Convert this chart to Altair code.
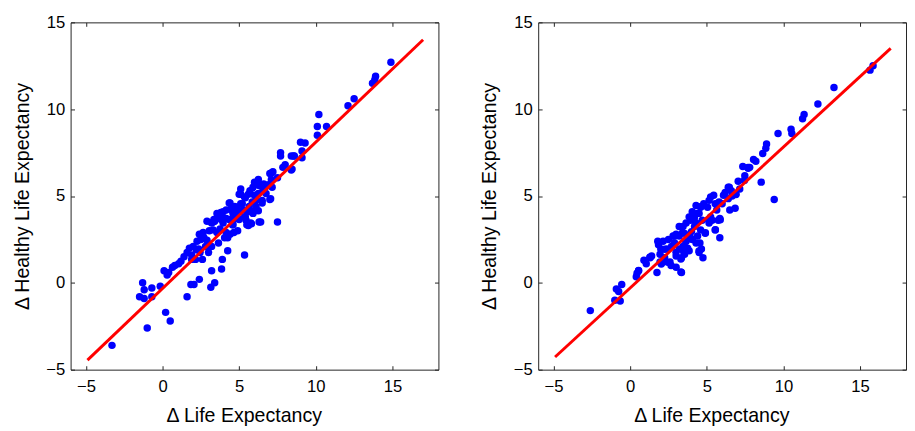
import altair as alt
import pandas as pd

# ---- data ----
left_x = [-3.3, -1.0, 0.2, 0.5, 1.6,
          -1.3, -1.5, -1.2, -1.2, -0.7, -0.7, -0.15,
          0.1, 0.3, 0.4, 0.65, 1.05, 1.2,
          1.85, 2.05, 2.4, 3.15, 3.4, 3.2, 3.85, 3.9, 4.25, 5.35,
          1.6, 1.75, 1.9, 2.15, 2.45, 2.6, 3.0, 1.9,
          2.25, 2.4, 2.5, 2.65, 2.9, 3.05, 3.2, 3.4, 3.3, 3.55, 3.75, 3.65, 3.95, 4.15, 4.25, 4.05, 4.4, 4.65, 4.9,
          3.95, 4.4, 4.15, 4.6, 4.8, 5.1, 5.1, 5.35, 5.25, 5.45, 5.6, 5.75, 5.9, 5.85, 6.1, 6.25, 6.4, 6.5, 6.3, 6.6,
          7.05, 7.15, 7.5, 7.7, 8.45, 8.55, 9.1, 7.85, 7.5, 7.15, 6.75, 6.0,
          2.9, 3.35, 3.55, 3.7, 3.9, 4.15, 4.35, 4.6, 4.8, 5.0, 4.7, 5.0, 5.35, 5.55, 5.65, 6.0, 6.1,
          2.35, 2.8, 3.0, 3.2,
          7.7, 8.4, 8.6, 8.4, 8.0, 9.0, 9.3, 9.1,
          10.1, 10.1, 10.2, 10.7, 12.1, 12.5, 13.7, 13.9, 13.85, 14.9,
          7.0, 6.5, 6.3,
          5.0, 5.1, 5.4, 5.6, 6.25, 6.35, 6.65, 7.1, 7.0, 7.2, 6.9, 6.55,
          4.35, 4.55, 4.75, 4.55, 4.85, 5.2, 5.4, 5.5, 5.8, 6.0, 6.25,
          3.8, 3.9, 3.3, 3.6, 2.0, 2.2, 2.7, 1.4, 0.8, 4.5, 5.7, 5.9]
left_y = [-3.6, -2.6, -1.7, -2.2, -0.8,
          0.0, -0.8, -0.9, -0.4, -0.3, -0.8, -0.2,
          0.7, 0.45, 0.6, 0.9, 1.1, 1.25,
          -0.1, -0.1, 0.2, -0.25, 0.0, 0.7, 0.8, 1.35, 1.85, 1.6,
          1.75, 2.0, 1.6, 1.35, 1.75, 1.35, 1.75, 1.35,
          2.4, 2.8, 2.5, 2.9, 2.45, 3.0, 3.45, 3.55, 3.05, 2.9, 3.1, 2.3, 3.45, 2.9, 2.6, 2.6, 2.8, 2.9, 3.0,
          4.1, 4.6, 4.2, 4.0, 4.3, 5.1, 4.55, 4.95, 4.2, 3.6, 3.3, 3.45, 4.0, 4.65, 4.4, 5.15, 3.5, 4.75, 5.6, 5.7,
          4.85, 6.35, 3.5, 7.3, 6.55, 7.3, 7.2, 6.65, 6.05, 5.5, 5.15, 5.8,
          3.55, 3.65, 4.0, 3.7, 3.8, 3.7, 3.65, 3.35, 3.7, 3.65, 4.4, 4.1, 3.8, 4.1, 4.4, 5.05, 4.75,
          1.95, 2.1, 2.05, 2.1,
          7.5, 7.3, 7.3, 6.5, 6.8, 8.1, 8.05, 7.6,
          8.5, 9.0, 9.7, 9.0, 10.2, 10.6, 11.5, 11.9, 11.7, 12.7,
          4.8, 4.6, 3.5,
          5.1, 5.4, 4.9, 5.1, 5.95, 5.65, 5.55, 5.95, 6.3, 6.4, 5.65, 5.4,
          4.6, 4.15, 3.8, 3.35, 4.35, 4.55, 3.8, 3.35, 3.4, 4.15, 4.15,
          4.05, 3.6, 3.5, 3.7, 2.1, 1.9, 2.6, 1.5, 1.0, 4.3, 5.3, 5.5]

right_x = [-2.6, -0.9, -0.75, -0.55, -1.0, -0.65,
           0.45, 0.4, 0.55, 0.9, 1.05, 1.3, 1.4, 1.75,
           1.8, 1.85, 2.15, 2.0, 1.95, 2.25, 2.6, 2.15, 1.95,
           2.5, 2.8, 3.0, 3.2, 3.45, 3.65, 3.0, 3.35,
           3.0, 3.35, 3.55, 3.85, 3.2, 3.45, 3.65, 3.75,
           3.95, 4.2, 4.3, 4.5, 4.6, 4.7, 4.8, 5.05, 5.15, 5.25, 5.45, 5.55, 5.65, 5.85, 5.75, 5.35, 5.15, 5.25,
           5.55, 5.85, 4.9, 4.6, 4.55, 4.65, 4.75, 4.5, 4.4,
           6.2, 6.4, 6.6, 6.5, 6.85, 6.9, 7.05, 7.15, 7.35, 7.45, 7.7, 7.8, 8.05, 8.2, 8.55, 8.65, 8.9, 8.85, 9.4,
           9.65, 10.5, 10.55, 11.25, 11.35, 12.25, 13.3, 15.65, 15.85,
           6.4, 6.0, 5.8, 6.65,
           4.3, 4.05, 3.85, 3.55, 3.2, 2.9, 2.7, 2.4, 4.05, 4.3, 4.0, 4.2,
           0.55, 1.28, 2.03, 2.24, 2.46, 2.67, 3.31, 2.88, 3.42, 3.63, 3.95, 3.5, 2.99, 3.31,
           4.17, 4.38, 4.59, 4.49, 4.91, 5.13, 5.56, 5.88, 6.09, 6.47, 6.9, 7.48, 7.69]
right_y = [-1.6, -0.35, -0.5, -0.1, -1.0, -1.05,
           0.55, 0.35, 0.7, 1.3, 1.1, 1.45, 1.55, 0.6,
           2.4, 2.2, 2.4, 1.95, 1.65, 1.45, 1.2, 1.2, 1.2,
           2.5, 2.7, 2.8, 3.25, 3.25, 3.45, 0.9, 0.6,
           1.55, 1.45, 1.65, 1.85, 1.95, 2.1, 2.4, 2.0,
           3.6, 3.8, 3.45, 4.0, 4.35, 3.6, 4.55, 4.35, 4.75, 4.95, 5.05, 4.55, 4.2, 3.7, 3.6, 3.6, 3.45, 3.8,
           3.05, 2.6, 2.85, 3.05, 2.3, 1.95, 1.45, 1.75, 2.7,
           5.2, 5.5, 5.3, 4.2, 4.3, 5.1, 5.85, 5.4, 6.7, 5.9, 6.6, 6.65, 7.1, 7.0, 5.8, 7.45, 8.0, 7.75, 4.8,
           8.6, 8.85, 8.6, 9.45, 9.7, 10.3, 11.25, 12.25, 12.5,
           4.85, 4.55, 4.65, 5.0,
           4.45, 4.1, 3.8, 2.85, 2.7, 2.3, 2.1, 1.95, 2.5, 2.3, 2.95, 3.25,
           0.71, 1.47, 1.09, 1.94, 1.18, 1.0, 0.62, 2.69, 2.88, 2.4, 2.59, 1.75, 1.75, 1.37,
           3.63, 4.0, 4.38, 1.84, 2.88, 3.63, 3.06, 3.63, 5.04, 5.51, 5.09, 6.17, 6.64]

fit_x = [-4.9, 17.0]
left_fit_y = [-4.45, 14.0]
right_fit_y = [-4.27, 13.5]

tick_values = [-5, 0, 5, 10, 15]
x_domain = [-6, 18]
y_domain = [-5, 15]

FONT = "Liberation Sans"
TICK = 4
W, H = 376, 355


def panel(px, py, fy):
    pts = pd.DataFrame({"x": px, "y": py})
    fit = pd.DataFrame({"x": fit_x, "y": fy})
    xs = alt.Scale(domain=x_domain, nice=False, zero=False)
    ys = alt.Scale(domain=y_domain, nice=False, zero=False)
    points = alt.Chart(pts).mark_circle(size=58, color="#0000ff", opacity=1).encode(
        x=alt.X("x:Q", scale=xs,
                axis=alt.Axis(values=tick_values, title="Δ Life Expectancy", orient="bottom",
                              offset=-TICK, tickSize=TICK, labelPadding=9, titlePadding=12,
                              titleX=W / 2 - 11, domain=False, grid=False)),
        y=alt.Y("y:Q", scale=ys,
                axis=alt.Axis(values=tick_values, title="Δ Healthy Life Expectancy", orient="left",
                              offset=-TICK, tickSize=TICK, labelPadding=6, titlePadding=14,
                              domain=False, grid=False)),
    )
    line = alt.Chart(fit).mark_line(color="#ff0000", strokeWidth=3).encode(
        x=alt.X("x:Q", scale=xs,
                axis=alt.Axis(values=tick_values, orient="top", labels=False, title=None,
                              offset=-TICK, tickSize=TICK, domain=False, grid=False)),
        y=alt.Y("y:Q", scale=ys,
                axis=alt.Axis(values=tick_values, orient="right", labels=False, title=None,
                              offset=-TICK, tickSize=TICK, domain=False, grid=False)),
    )
    return alt.layer(points, line).resolve_axis(x="independent", y="independent").properties(
        width=W, height=H)


chart = alt.hconcat(panel(left_x, left_y, left_fit_y),
                    panel(right_x, right_y, right_fit_y),
                    spacing=41).configure_view(
    stroke="#222222", strokeWidth=1
).configure_axis(
    labelFont=FONT, titleFont=FONT, labelFontSize=17, titleFontSize=20,
    titleFontWeight="normal", labelColor="#000000", titleColor="#000000",
    tickColor="#222222", tickWidth=1
).properties(padding={"left": 4, "top": 0, "right": 0, "bottom": 0})

chart.save("out.html", embed_options={"renderer": "svg", "actions": False})
